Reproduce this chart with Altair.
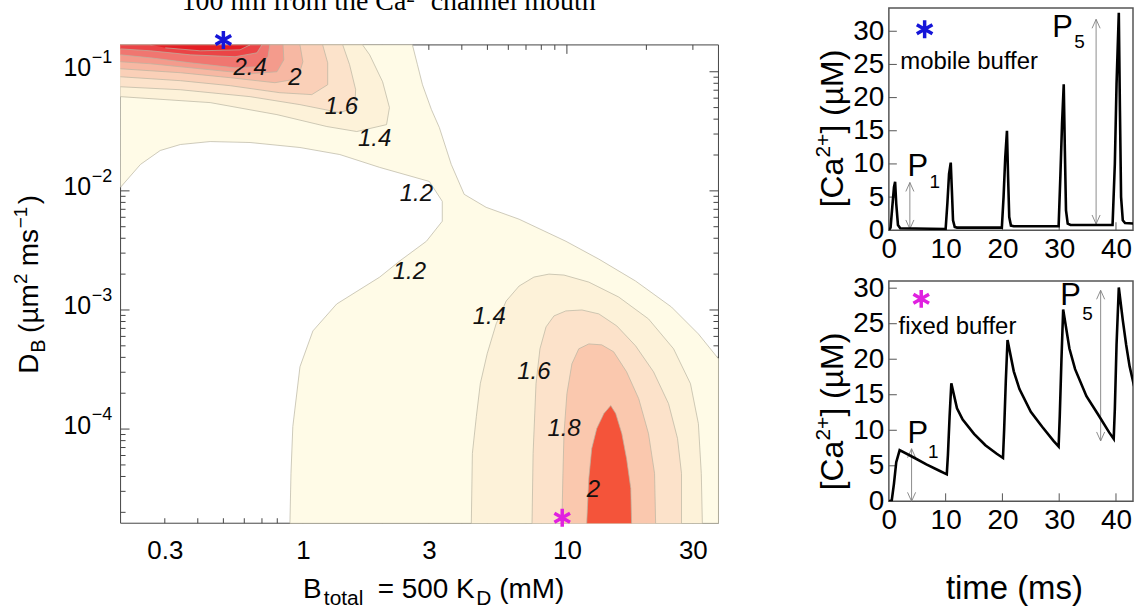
import altair as alt
import pandas as pd

FONT = "Liberation Sans"
SERIF = "Liberation Serif"

# ======================= DATA =======================
# ---- left: filled contour regions of the map, vertices
#      as (log10 B_total [mM], log10 D_B [um^2 ms^-1])
reg_12 = [(-0.691, -0.774), (0.415, -0.774), (0.434, -0.941), (0.453, -1.109), (0.487, -1.318),
          (0.517, -1.469), (0.562, -1.778), (0.611, -2.029), (0.694, -2.138), (0.819, -2.238),
          (0.996, -2.423), (1.121, -2.573), (1.260, -2.757), (1.396, -2.975), (1.498, -3.201),
          (1.574, -3.410), (1.574, -4.791), (-0.049, -4.791), (-0.045, -4.372), (-0.038, -3.979),
          (-0.011, -3.477), (0.038, -3.176), (0.128, -2.950), (0.291, -2.724), (0.366, -2.590),
          (0.468, -2.423), (0.528, -2.255), (0.528, -2.088), (0.479, -1.921), (0.291, -1.803),
          (0.140, -1.695), (-0.011, -1.636), (-0.200, -1.594), (-0.351, -1.586), (-0.464, -1.611),
          (-0.540, -1.661), (-0.615, -1.778), (-0.691, -1.971)]
tl_14 = [(-0.691, -0.774), (0.226, -0.774), (0.253, -0.858), (0.302, -1.084), (0.328, -1.301),
         (0.317, -1.444), (0.204, -1.502), (0.091, -1.460), (-0.098, -1.360), (-0.351, -1.259),
         (-0.691, -1.209)]
tl_16 = [(-0.691, -0.774), (0.151, -0.774), (0.177, -0.941), (0.200, -1.151), (0.196, -1.301),
         (0.140, -1.343), (-0.011, -1.276), (-0.200, -1.209), (-0.464, -1.151), (-0.691, -1.126)]
tl_18 = [(-0.691, -0.774), (0.075, -0.774), (0.094, -0.925), (0.094, -1.109), (0.034, -1.192),
         (-0.087, -1.176), (-0.275, -1.117), (-0.464, -1.075), (-0.691, -1.042)]
tl_20 = [(-0.691, -0.774), (-0.011, -0.774), (0.000, -0.916), (-0.019, -1.059), (-0.106, -1.092),
         (-0.275, -1.050), (-0.464, -1.008), (-0.691, -0.975)]
tl_22 = [(-0.691, -0.774), (-0.075, -0.774), (-0.072, -0.900), (-0.098, -1.000), (-0.200, -1.017),
         (-0.389, -0.975), (-0.577, -0.933), (-0.691, -0.916)]
tl_24 = [(-0.691, -0.774), (-0.125, -0.774), (-0.132, -0.874), (-0.170, -0.958), (-0.257, -0.967),
         (-0.426, -0.925), (-0.577, -0.883), (-0.691, -0.858)]
tl_26 = [(-0.691, -0.774), (-0.155, -0.774), (-0.174, -0.841), (-0.257, -0.874), (-0.426, -0.858),
         (-0.577, -0.824), (-0.691, -0.808)]
tl_28 = [(-0.577, -0.774), (-0.200, -0.774), (-0.238, -0.816), (-0.389, -0.824), (-0.521, -0.799)]
br_14 = [(0.638, -4.791), (0.642, -4.205), (0.657, -3.895), (0.672, -3.619), (0.698, -3.368),
         (0.732, -3.117), (0.770, -2.925), (0.819, -2.799), (0.875, -2.724), (0.932, -2.699),
         (0.989, -2.707), (1.083, -2.766), (1.196, -2.891), (1.309, -3.075), (1.404, -3.326),
         (1.468, -3.619), (1.498, -3.954), (1.509, -4.372), (1.513, -4.791)]
br_16 = [(0.868, -4.791), (0.872, -4.205), (0.883, -3.619), (0.898, -3.326), (0.921, -3.142),
         (0.951, -3.050), (0.996, -3.008), (1.057, -3.000), (1.121, -3.033), (1.189, -3.134),
         (1.260, -3.301), (1.328, -3.519), (1.385, -3.787), (1.419, -4.079), (1.434, -4.372),
         (1.434, -4.791)]
br_18 = [(0.981, -4.791), (0.985, -4.372), (0.989, -4.038), (1.000, -3.703), (1.019, -3.452),
         (1.045, -3.326), (1.083, -3.285), (1.132, -3.293), (1.177, -3.351), (1.226, -3.519),
         (1.272, -3.745), (1.309, -4.038), (1.332, -4.372), (1.336, -4.791)]
br_20 = [(1.075, -4.791), (1.083, -4.414), (1.094, -4.163), (1.113, -3.996), (1.140, -3.870),
         (1.166, -3.803), (1.185, -3.870), (1.208, -4.038), (1.226, -4.247), (1.242, -4.498),
         (1.245, -4.791)]

contour_regions = {"reg_12": reg_12, "tl_14": tl_14, "tl_16": tl_16, "tl_18": tl_18,
                   "tl_20": tl_20, "tl_22": tl_22, "tl_24": tl_24, "tl_26": tl_26,
                   "tl_28": tl_28, "br_14": br_14, "br_16": br_16, "br_18": br_18,
                   "br_20": br_20}

clab_text = ["2.4", "2", "1.6", "1.4", "1.2", "1.2", "1.4", "1.6", "1.8", "2"]
clab_B = [0.631, 0.933, 1.40, 1.87, 2.69, 2.53, 5.08, 7.5, 9.75, 12.6]
clab_D = [0.108, 0.0891, 0.0509, 0.0270, 0.00935, 0.00208, 0.000874, 0.000303, 0.000101, 0.0000305]

star_mobile_B, star_mobile_D = [0.5], [0.185]
star_fixed_B, star_fixed_D = [9.6], [1.8e-5]

bt_ticks = [0.3, 1, 3, 10, 30]
db_ticks = [1e-1, 1e-2, 1e-3, 1e-4]
db_exp = ["\u22121", "\u22122", "\u22123", "\u22124"]
bt_major = [1, 10]
bt_minor = [0.3, 0.4, 0.5, 0.6, 0.7, 0.8, 0.9, 2, 3, 4, 5, 6, 7, 8, 9, 20, 30]
db_minor = [m * 10.0 ** e for e in (-5, -4, -3, -2) for m in range(2, 10)]

# ---- right: [Ca2+] time courses (ms, uM)
t_mobile = [0, 0.3, 0.6, 0.9, 1.1, 1.3, 1.6, 2.0,
            10.0, 10.3, 10.6, 10.9, 11.1, 11.3, 11.6, 12.0,
            19.9, 20.2, 20.5, 20.8, 21.0, 21.2, 21.5, 22.0,
            29.9, 30.2, 30.5, 30.8, 31.0, 31.2, 31.5, 32.0,
            39.4, 39.8, 40.1, 40.5, 40.7, 40.9, 41.2, 41.6, 43.5]
ca_mobile = [0, 0.4, 3.5, 6.5, 7.3, 4.0, 0.8, 0.3,
             0.2, 4.0, 8.5, 10.2, 6.0, 1.5, 0.5, 0.4,
             0.4, 5.0, 11.0, 15.0, 8.0, 2.0, 0.7, 0.6,
             0.6, 8.0, 16.0, 22.0, 12.0, 3.0, 1.0, 0.8,
             0.8, 10.0, 22.0, 32.8, 18.0, 5.0, 1.5, 1.1, 1.0]
t_fixed = [0, 0.5, 0.9, 1.3, 1.9, 4.3, 6.6, 8.9, 10.2,
           10.4, 10.7, 11.0, 12.0, 13.0, 15.0, 17.0, 19.0, 20.1,
           20.3, 20.6, 20.9, 22.0, 23.0, 25.0, 27.0, 29.0, 29.9,
           30.1, 30.4, 30.7, 31.8, 32.8, 34.8, 36.8, 38.8, 39.6,
           39.8, 40.1, 40.5, 41.2, 41.8, 42.4, 43.2]
ca_fixed = [0, 0.1, 2.5, 5.5, 7.2, 6.2, 5.2, 4.3, 3.8,
            6.5, 12.0, 16.6, 13.1, 11.5, 9.5, 7.9, 6.7, 6.1,
            10.0, 17.0, 22.7, 18.3, 15.8, 12.6, 10.5, 8.5, 7.7,
            12.0, 20.0, 27.0, 21.5, 18.6, 14.8, 12.3, 9.7, 8.8,
            13.0, 22.0, 30.1, 25.5, 22.0, 19.0, 16.2]

# amplitude arrows P1, P5: time, low, high
arr_mobile_t, arr_mobile_lo, arr_mobile_hi = [3.7, 36.5], [0.2, 0.95], [7.2, 31.8]
arr_fixed_t, arr_fixed_lo, arr_fixed_hi = [4.0, 37.3], [0.0, 8.5], [7.4, 29.7]
p_mobile_t, p_mobile_v = [5.1, 30.6], [9.6, 30.5]
psub_mobile_t, psub_mobile_v, psub_text = [8.1, 33.6], [7.2, 28.4], ["1", "5"]
p_fixed_t, p_fixed_v = [5.1, 32.0], [9.4, 28.9]
psub_fixed_t, psub_fixed_v = [7.8, 35.0], [6.9, 26.4]
star_mobile_t, star_mobile_v = [6.3], [30.3]
star_fixed_t, star_fixed_v = [5.7], [28.5]
note_mobile_t, note_mobile_v = [2.0], [25.3]
note_fixed_t, note_fixed_v = [1.7], [24.5]
t_ticks = [0, 10, 20, 30, 40]
ca_ticks = [0, 5, 10, 15, 20, 25, 30]

# ======================= STYLE =======================
REGION_FILL = {"reg_12": "#fffbe7", "tl_14": "#fdf2d9", "tl_16": "#fce3cb", "tl_18": "#fad0b8",
               "tl_20": "#f7b8a3", "tl_22": "#f49b8c", "tl_24": "#f07670", "tl_26": "#eb4446",
               "tl_28": "#e51e24", "br_14": "#fdf2d9", "br_16": "#fce2ca", "br_18": "#fac8ae",
               "br_20": "#f4543a"}
BLUE, MAGENTA = "#1515d8", "#e020e0"
STAR = "M0,-1L0,1M-0.87,-0.5L0.87,0.5M-0.87,0.5L0.87,-0.5"
UP = "M-0.45,1L0,0L0.45,1"
DOWN = "M-0.45,-1L0,0L0.45,-1"

ONE = pd.DataFrame({"k": [0]})


def rule_px(x, x2, y, y2, color="#444", sw=1.0):
    return alt.Chart(ONE).mark_rule(color=color, strokeWidth=sw).encode(
        x=alt.value(x), x2=alt.value(x2), y=alt.value(y), y2=alt.value(y2))


def text_px(s, x, y, size, angle=0, align="left", font=FONT, style="normal", baseline="alphabetic"):
    return alt.Chart(pd.DataFrame({"s": [s]})).mark_text(
        align=align, baseline=baseline, fontSize=size, angle=angle, font=font,
        fontStyle=style, color="black").encode(x=alt.value(x), y=alt.value(y), text="s:N")


# ======================= LEFT PANEL =======================
W, H = 600, 480
rows = []
for name, pts in contour_regions.items():
    for i, (lb, ld) in enumerate(pts):
        rows.append({"region": name, "i": i, "B": 10 ** lb, "D": 10 ** ld})
contour_df = pd.DataFrame(rows)

xs = alt.Scale(type="log", domain=[0.204, 37.5], nice=False)
ys = alt.Scale(type="log", domain=[1.62e-5, 0.168], nice=False)
X = alt.X("B:Q", scale=xs, axis=alt.Axis(values=bt_ticks, format="~g", title=None, grid=False,
                                           domain=False, ticks=False, tickSize=0, labelFontSize=26,
                                           labelPadding=14, labelFlush=False, labelOverlap=False))
Y = alt.Y("D:Q", scale=ys, axis=alt.Axis(values=db_ticks, labelExpr="'10'", title=None, grid=False,
                                           domain=False, ticks=False, tickSize=0, labelFontSize=25,
                                           labelPadding=30, labelOffset=-4, labelFlush=False,
                                           labelOverlap=False))

left_layers = [
    rule_px(-120, -118, 300, 300, color="white"),
    rule_px(500, 510, -15, -15, color="white"),
    rule_px(0, W, 0, 0), rule_px(0, W, H, H), rule_px(0, 0, 0, H), rule_px(W, W, 0, H),
]
for vals, ln in ((bt_minor, 5), (bt_major, 9)):
    d = pd.DataFrame({"B": vals})
    left_layers.append(alt.Chart(d).mark_rule(color="#444").encode(x=X, y=alt.value(0), y2=alt.value(ln)))
    left_layers.append(alt.Chart(d).mark_rule(color="#444").encode(x=X, y=alt.value(H - ln), y2=alt.value(H)))
for vals, ln in ((db_minor, 5), (db_ticks, 9)):
    d = pd.DataFrame({"D": vals})
    left_layers.append(alt.Chart(d).mark_rule(color="#444").encode(y=Y, x=alt.value(0), x2=alt.value(ln)))
    left_layers.append(alt.Chart(d).mark_rule(color="#444").encode(y=Y, x=alt.value(W - ln), x2=alt.value(W)))

for name in contour_regions:
    left_layers.append(
        alt.Chart(contour_df).transform_filter(alt.datum.region == name)
        .mark_line(fill=REGION_FILL[name], stroke="#b9b4a2", strokeWidth=0.7, interpolate="linear")
        .encode(x=X, y=Y, order=alt.Order("i:Q"))
    )

left_layers.append(
    alt.Chart(pd.DataFrame({"B": clab_B, "D": clab_D, "s": clab_text})).mark_text(
        fontSize=24, fontStyle="italic", font=FONT, color="#111").encode(x=X, y=Y, text="s:N"))
left_layers.append(
    alt.Chart(pd.DataFrame({"B": star_mobile_B, "D": star_mobile_D})).mark_point(
        shape=STAR, filled=False, size=324, strokeWidth=3.5, opacity=1, color=BLUE).encode(x=X, y=Y))
left_layers.append(
    alt.Chart(pd.DataFrame({"B": star_fixed_B, "D": star_fixed_D})).mark_point(
        shape=STAR, filled=False, size=324, strokeWidth=3.5, opacity=1, color=MAGENTA).encode(x=X, y=Y))
left_layers.append(
    alt.Chart(pd.DataFrame({"D": db_ticks, "s": db_exp})).mark_text(
        align="left", baseline="middle", fontSize=18, dy=-14, color="black").encode(
        x=alt.value(-29), y=Y, text="s:N"))

# axis titles built from pieces (sub/superscripts)
left_layers += [
    text_px("D", -83, 330, 28, angle=270),
    text_px("B", -76, 309, 20, angle=270),
    text_px("(\u00b5m", -83, 289, 28, angle=270),
    text_px("2", -94, 240, 19, angle=270),
    text_px("ms", -83, 222, 28, angle=270),
    text_px("\u22121", -94, 184, 19, angle=270),
    text_px(")", -83, 160, 28, angle=270),
    text_px("B", 183, 555, 28),
    text_px("total", 204, 562, 21),
    text_px("= 500 K", 258, 555, 28),
    text_px("D", 357, 562, 21),
    text_px("(mM)", 380, 555, 28),
]
left = alt.layer(*left_layers).properties(width=W, height=H)

spacer = alt.Chart(pd.DataFrame({"s": ["100 nm from the Ca\u00b2\u207a channel mouth"]})).mark_text(
    font=SERIF, fontSize=28, align="center", baseline="alphabetic", color="black"
).encode(x=alt.value(269), y=alt.value(2), text="s:N").properties(width=600, height=19)

left_col = alt.vconcat(spacer, left, spacing=-4)


# ======================= RIGHT PANELS =======================
WR = 245


def ca_panel(t, ca, ymax, h, arr_t, arr_lo, arr_hi, p_t, p_v, ps_t, ps_v, st_t, st_v, st_col,
             note, note_t, note_v, title_y, anchors_y, xtitle):
    RX = alt.X("t:Q", scale=alt.Scale(domain=[0, 43], nice=False),
               axis=alt.Axis(values=t_ticks, title=None, grid=False, domain=False, ticks=False,
                             tickSize=0, labelFontSize=28, labelPadding=5, labelFlush=False,
                             labelOverlap=False))
    RY = alt.Y("v:Q", scale=alt.Scale(domain=[0, ymax], nice=False),
               axis=alt.Axis(values=ca_ticks, title=None, grid=False, domain=False, ticks=False,
                             tickSize=0, labelFontSize=28, labelPadding=5, labelFlush=False,
                             labelOverlap=False))
    layers = [rule_px(-100, -98, 100, 100, color="white")]
    layers += [rule_px(-100, -98, a, a, color="white") for a in anchors_y]
    layers += [
        alt.Chart(pd.DataFrame({"v": ca_ticks[1:]})).mark_rule(color="#555").encode(
            y=RY, x=alt.value(0), x2=alt.value(8)),
        alt.Chart(pd.DataFrame({"t": t_ticks[1:]})).mark_rule(color="#555").encode(
            x=RX, y=alt.value(h - 8), y2=alt.value(h)),
        alt.Chart(pd.DataFrame({"t": arr_t, "v": arr_lo, "v2": arr_hi})).mark_rule(
            color="#808080", strokeWidth=0.9).encode(x=RX, y=RY, y2="v2:Q"),
        alt.Chart(pd.DataFrame({"t": arr_t, "v": arr_hi})).mark_point(
            shape=UP, filled=False, size=324, strokeWidth=0.9, opacity=1, color="#808080").encode(x=RX, y=RY),
        alt.Chart(pd.DataFrame({"t": arr_t, "v": arr_lo})).mark_point(
            shape=DOWN, filled=False, size=324, strokeWidth=0.9, opacity=1, color="#808080").encode(x=RX, y=RY),
        alt.Chart(pd.DataFrame({"t": t, "v": ca})).mark_line(
            color="black", strokeWidth=2.6, clip=True).encode(x=RX, y=RY),
        alt.Chart(pd.DataFrame({"t": p_t, "v": p_v, "s": ["P", "P"]})).mark_text(
            fontSize=31, color="black").encode(x=RX, y=RY, text="s:N"),
        alt.Chart(pd.DataFrame({"t": ps_t, "v": ps_v, "s": psub_text})).mark_text(
            fontSize=19, color="black").encode(x=RX, y=RY, text="s:N"),
        alt.Chart(pd.DataFrame({"t": st_t, "v": st_v})).mark_point(
            shape=STAR, filled=False, size=324, strokeWidth=3.5, opacity=1, color=st_col).encode(x=RX, y=RY),
        alt.Chart(pd.DataFrame({"t": note_t, "v": note_v, "s": [note]})).mark_text(
            fontSize=24, align="left", baseline="middle", color="black").encode(x=RX, y=RY, text="s:N"),
        text_px("[Ca", -46, title_y, 32, angle=270),
        text_px("2+", -59, title_y - 50, 21, angle=270),
        text_px("] (\u00b5M)", -46, title_y - 74, 32, angle=270),
    ]
    if xtitle:
        layers.append(text_px("time (ms)", 126, 319, 33, align="center"))
    return alt.layer(*layers).properties(
        width=WR, height=h, view=alt.ViewBackground(stroke="#555", strokeWidth=1.5))


top = ca_panel(t_mobile, ca_mobile, 33.5, 223, arr_mobile_t, arr_mobile_lo, arr_mobile_hi,
               p_mobile_t, p_mobile_v, psub_mobile_t, psub_mobile_v, star_mobile_t, star_mobile_v,
               BLUE, "mobile buffer", note_mobile_t, note_mobile_v, 200, [-40, 262], False)
bottom = ca_panel(t_fixed, ca_fixed, 31, 221, arr_fixed_t, arr_fixed_lo, arr_fixed_hi,
                  p_fixed_t, p_fixed_v, psub_fixed_t, psub_fixed_v, star_fixed_t, star_fixed_v,
                  MAGENTA, "fixed buffer", note_fixed_t, note_fixed_v, 210, [-8], True)

right_col = alt.vconcat(top, bottom, spacing=0)

chart = (
    alt.hconcat(left_col, right_col, spacing=67)
    .properties(padding={"top": -35, "left": 0, "right": 0, "bottom": 0})
    .configure_view(strokeWidth=0)
    .configure_axis(labelFont=FONT, labelColor="black")
    .configure_text(font=FONT)
)

chart.save("out.html", embed_options={"renderer": "svg", "actions": False})
